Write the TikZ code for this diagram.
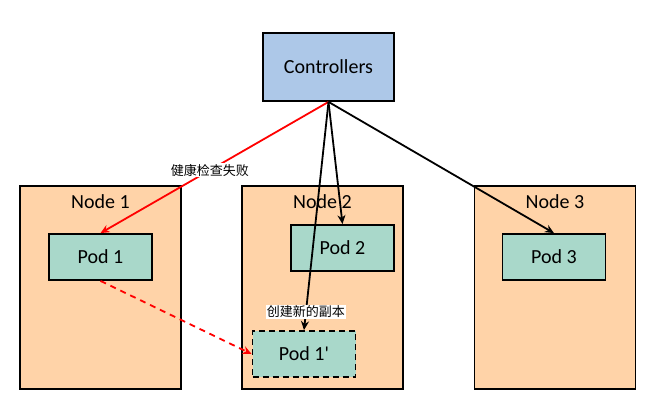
\documentclass[tikz,border=0pt]{standalone}
\usepackage{fontspec}
\setmainfont{Carlito}
\newfontfamily\cjk{Noto Sans CJK SC}
\definecolor{ctrlBlue}{HTML}{ADC8E8}
\definecolor{nodePeach}{HTML}{FFD3A8}
\definecolor{podGreen}{HTML}{A9D8CA}
\usetikzlibrary{positioning,arrows.meta}

\begin{document}
\begin{tikzpicture}[x=1pt, y=-1pt,
  ctrlbox/.style={draw=black, line width=1.8pt, fill=ctrlBlue,
    minimum width=131pt, minimum height=68pt, font=\fontsize{20}{24}\selectfont},
  nodebox/.style={draw=black, line width=1.8pt, fill=nodePeach,
    minimum width=161pt, minimum height=203pt},
  podbox/.style={draw=black, line width=1.8pt, fill=podGreen,
    minimum width=103pt, minimum height=46pt, font=\fontsize{20}{24}\selectfont},
  title/.style={font=\fontsize{20}{24}\selectfont},
  note/.style={fill=white, text=black, inner sep=1pt, font=\cjk\fontsize{13}{15}\selectfont},
  arr/.style={-{Stealth[length=9pt, width=8pt]}, line width=1.8pt}
]
  \useasboundingbox (0,0) rectangle (652,409);

  \node[ctrlbox] (ctrl) at (328.5,67) {Controllers};

  % worker nodes
  \node[nodebox] (n1) at (100.5,287.5) {};
  \node[nodebox] (n2) at (322.5,287.5) {};
  \node[nodebox] (n3) at (555,287.5) {};
  \node[title] (n1t) at (100.5,202) {Node 1};
  \node[title] (n2t) at (322.5,202) {Node 2};
  \node[title] (n3t) at (555,202) {Node 3};

  % pods
  \node[podbox] (pod1) at (100.5,257) {Pod 1};
  \node[podbox] (pod2) at (342.5,248) {Pod 2};
  \node[podbox] (pod3) at (554,257) {Pod 3};
  \node[podbox, dashed, dash pattern=on 6pt off 4pt] (podnew) at (304,354) {Pod 1\textquotesingle};

  \draw[arr, red] (ctrl.south) -- node[note, pos=0.52] (fail) {健康检查失败} (pod1.north);
  \draw[arr] (ctrl.south) -- (pod2.north);
  \draw[arr] (ctrl.south) -- node[note, pos=0.92] (copy) {创建新的副本} (podnew.north);
  \draw[arr] (ctrl.south) -- (pod3.north);
  \draw[arr, red, dashed, dash pattern=on 6pt off 5pt] (pod1.south) -- (podnew.west);
\end{tikzpicture}
\end{document}
